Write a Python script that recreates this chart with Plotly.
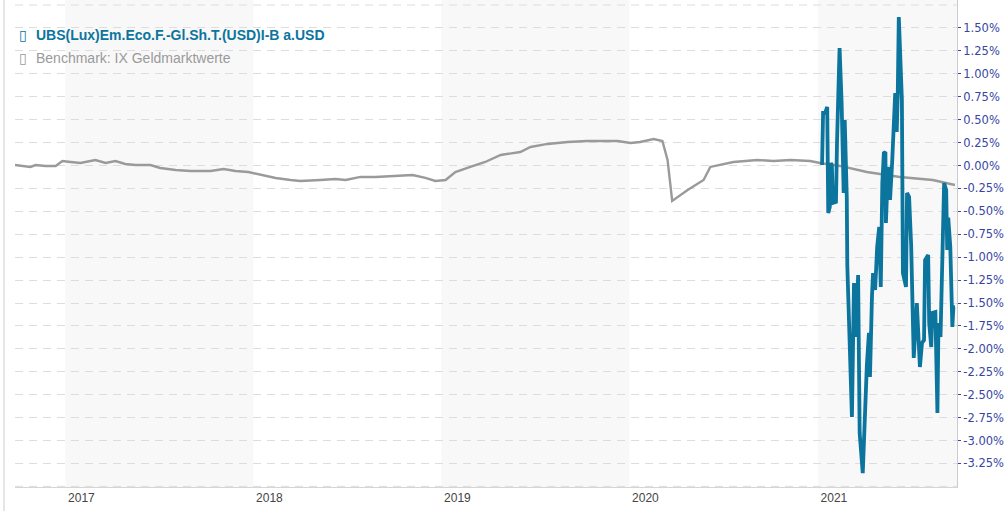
import plotly.graph_objects as go

# ---- data (percent) ----
bench_dates = [
    "2016-09-25", "2016-10-25", "2016-11-04", "2016-11-23", "2016-12-13", "2016-12-26",
    "2017-01-11", "2017-01-30", "2017-02-28", "2017-03-20", "2017-04-08", "2017-04-27",
    "2017-05-17", "2017-06-15", "2017-07-04", "2017-08-03", "2017-09-01", "2017-10-10",
    "2017-11-04", "2017-11-27", "2017-12-22", "2018-01-15", "2018-02-13", "2018-03-14",
    "2018-04-02", "2018-05-11", "2018-06-09", "2018-06-29", "2018-07-28", "2018-08-26",
    "2018-10-04", "2018-11-06", "2018-12-01", "2018-12-20", "2019-01-09", "2019-01-28",
    "2019-02-26", "2019-03-27", "2019-04-26", "2019-06-03", "2019-06-23", "2019-07-26",
    "2019-09-03", "2019-10-11", "2019-12-09", "2020-01-03", "2020-01-22", "2020-02-17",
    "2020-03-05", "2020-03-15", "2020-03-24", "2020-04-23", "2020-05-24", "2020-06-06",
    "2020-07-21", "2020-09-05", "2020-10-07", "2020-11-09", "2020-12-17", "2021-01-05",
    "2021-02-13", "2021-04-06", "2021-06-09", "2021-08-12", "2021-09-24",
]
bench_values = [
    0.005, -0.016, 0.005, -0.005, -0.005, 0.049,
    0.038, 0.027, 0.060, 0.027, 0.049, 0.016,
    0.005, 0.005, -0.027, -0.049, -0.060, -0.060,
    -0.038, -0.060, -0.071, -0.104, -0.136, -0.158,
    -0.169, -0.158, -0.147, -0.158, -0.125, -0.125,
    -0.115, -0.104, -0.136, -0.169, -0.158, -0.071,
    -0.016, 0.038, 0.115, 0.147, 0.202, 0.235,
    0.256, 0.267, 0.267, 0.245, 0.256, 0.289,
    0.267, 0.060, -0.387, -0.267, -0.158, -0.016,
    0.038, 0.060, 0.049, 0.060, 0.049, 0.027,
    -0.005, -0.071, -0.125, -0.158, -0.213,
]

fund_dates = [
    "2021-01-09", "2021-01-11", "2021-01-15", "2021-01-19", "2021-01-21", "2021-01-24",
    "2021-01-26", "2021-01-28", "2021-01-30", "2021-02-05", "2021-02-07", "2021-02-09",
    "2021-02-12", "2021-02-16", "2021-02-18", "2021-02-20", "2021-02-22", "2021-02-26",
    "2021-02-27", "2021-02-28", "2021-03-08", "2021-03-12", "2021-03-16", "2021-03-20",
    "2021-03-23", "2021-03-29", "2021-04-02", "2021-04-06", "2021-04-10", "2021-04-12",
    "2021-04-16", "2021-04-18", "2021-04-22", "2021-04-26", "2021-04-30", "2021-05-03",
    "2021-05-06", "2021-05-09", "2021-05-12", "2021-05-13", "2021-05-17", "2021-05-21",
    "2021-05-25", "2021-05-31", "2021-06-03", "2021-06-05", "2021-06-07", "2021-06-11",
    "2021-06-13", "2021-06-15", "2021-06-21", "2021-06-23", "2021-06-27", "2021-07-01",
    "2021-07-06", "2021-07-12", "2021-07-18", "2021-07-22", "2021-07-26", "2021-07-28",
    "2021-08-03", "2021-08-05", "2021-08-09", "2021-08-11", "2021-08-17", "2021-08-21",
    "2021-08-23", "2021-08-27", "2021-08-31", "2021-09-03", "2021-09-07", "2021-09-09",
    "2021-09-11", "2021-09-15", "2021-09-19", "2021-09-21", "2021-09-24",
]
fund_values = [
    0.005, 0.573, 0.573, 0.638, -0.518, -0.453,
    0.027, 0.005, -0.409, -0.398, 0.245, 0.791,
    1.282, 0.682, -0.016, -0.300, 0.496, -0.344,
    -1.085, -1.282, -2.744, -1.282, -1.871, -1.195,
    -2.918, -3.355, -2.635, -2.176, -1.827, -2.307,
    -1.413, -1.173, -1.358, -0.889, -0.671, -1.325,
    -0.191, 0.136, 0.147, -0.627, -0.016, -0.376,
    0.027, 0.791, 0.365, 0.791, 1.620, 0.791,
    0.715, -1.173, -1.325, -0.300, -0.344, -0.867,
    -2.100, -1.500, -2.198, -1.936, -1.904, -1.031,
    -0.976, -1.718, -1.980, -1.609, -1.598, -2.700,
    -1.718, -1.871, -0.627, -0.191, -0.267, -0.922,
    -0.570, -0.889, -1.762, -1.544, -1.544,
]

fund_name = "UBS(Lux)Em.Eco.F.-Gl.Sh.T.(USD)I-B a.USD"
bench_name = "Benchmark: IX Geldmarktwerte"

year_labels = ["2017", "2018", "2019", "2020", "2021"]
shaded_years = [2017, 2019, 2021]
y_ticks = [1.5, 1.25, 1.0, 0.75, 0.5, 0.25, 0.0, -0.25, -0.5, -0.75, -1.0, -1.25,
           -1.5, -1.75, -2.0, -2.25, -2.5, -2.75, -3.0, -3.25]

x_range = ["2016-09-25", "2021-09-28"]
y_range = [-3.507, 1.805]

BLUE = "#0b759e"
GRAY = "#9a9a9a"
AXIS_TXT = "#3846a3"

fig = go.Figure()
fig.add_trace(go.Scatter(x=bench_dates, y=bench_values, mode="lines",
                         line=dict(color=GRAY, width=2.4), name=bench_name))
fig.add_trace(go.Scatter(x=fund_dates, y=fund_values, mode="lines",
                         line=dict(color=BLUE, width=3.8), name=fund_name))

shapes = []
for yr in shaded_years:
    x1 = f"{yr + 1}-01-01"
    if x1 > x_range[1]:
        x1 = x_range[1]
    shapes.append(dict(type="rect", xref="x", yref="paper", x0=f"{yr}-01-01", x1=x1,
                       y0=0, y1=1, fillcolor="#f8f8f8", line=dict(width=0), layer="below"))
# extra dashed gridlines at edges
for v in [1.75, -3.5]:
    shapes.append(dict(type="line", xref="paper", yref="y", x0=0, x1=1, y0=v, y1=v,
                       line=dict(color="#dddddd", width=1, dash="8px,6px"), layer="below"))
# outer frame line at left
shapes.append(dict(type="line", xref="paper", yref="paper", x0=-0.0117, x1=-0.0117,
                   y0=-0.05, y1=1, line=dict(color="#cccccc", width=1)))

annotations = [
    dict(text="▯", xref="paper", yref="paper", x=0.002, y=0.928, xanchor="left",
         yanchor="middle", showarrow=False, font=dict(color=BLUE, size=14, family="DejaVu Sans")),
    dict(text=f"<b>{fund_name}</b>", xref="paper", yref="paper", x=0.0205, y=0.928,
         xanchor="left", yanchor="middle", showarrow=False,
         font=dict(color=BLUE, size=14, family="Liberation Sans")),
    dict(text="▯", xref="paper", yref="paper", x=0.002, y=0.881, xanchor="left",
         yanchor="middle", showarrow=False, font=dict(color=GRAY, size=14, family="DejaVu Sans")),
    dict(text=bench_name, xref="paper", yref="paper", x=0.0205, y=0.881,
         xanchor="left", yanchor="middle", showarrow=False,
         font=dict(color=GRAY, size=14, family="Liberation Sans")),
]

fig.update_layout(
    width=1006, height=511,
    margin=dict(l=15, r=49, t=0, b=24, autoexpand=False),
    paper_bgcolor="white", plot_bgcolor="white",
    showlegend=False,
    shapes=shapes, annotations=annotations,
    xaxis=dict(range=x_range, type="date", automargin=False,
               tickvals=[f"{y}-02-01" for y in year_labels], ticktext=year_labels,
               showgrid=False, zeroline=False, ticks="",
               showline=True, linecolor="#d5d5d5", linewidth=1,
               tickfont=dict(family="Liberation Sans", size=12, color="#444444")),
    yaxis=dict(range=y_range, side="right", tickvals=y_ticks, automargin=False,
               ticktext=[f"{v:.2f}%" for v in y_ticks],
               showgrid=True, gridcolor="#dddddd", griddash="8px,6px", gridwidth=1,
               zeroline=False, showline=True, linecolor="#cccccc", linewidth=1,
               ticks="outside", ticklen=3, tickcolor=AXIS_TXT,
               tickfont=dict(family="DejaVu Sans", size=11.5, color=AXIS_TXT)),
)

fig.write_html("out.html", config={"displayModeBar": False},
               post_script="document.body.style.margin='0';")
